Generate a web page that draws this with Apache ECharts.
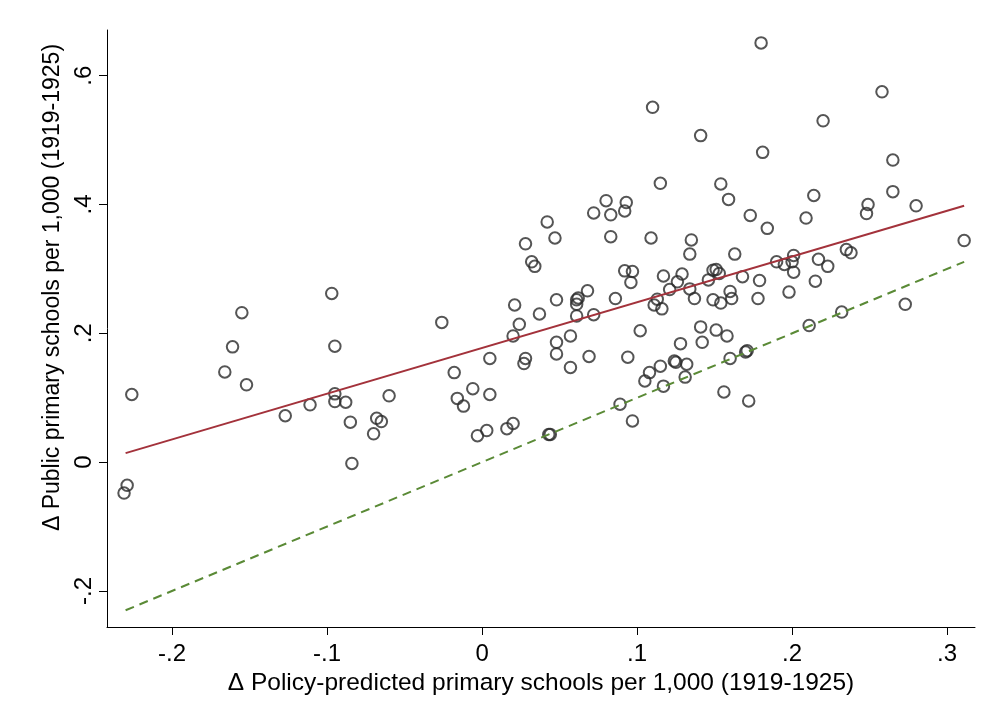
<!DOCTYPE html>
<html>
<head>
<meta charset="utf-8">
<script src="https://cdn.jsdelivr.net/npm/echarts@6/dist/echarts.min.js"></script>
<style>
  html, body { margin: 0; padding: 0; background: #fff; }
  #chart { width: 997px; height: 725px; }
</style>
</head>
<body>
<div id="chart"></div>
<script>
// scatter points: [x, y]
var points = [
  [-0.231, -0.048], [-0.229, -0.036], [-0.226, 0.105], [-0.166, 0.140], [-0.161, 0.179],
  [-0.155, 0.232], [-0.152, 0.120], [-0.127, 0.072], [-0.111, 0.089], [-0.097, 0.262],
  [-0.095, 0.106], [-0.095, 0.094], [-0.095, 0.180], [-0.088, 0.093], [-0.085, 0.062],
  [-0.084, -0.002], [-0.068, 0.068], [-0.065, 0.063], [-0.070, 0.044], [-0.060, 0.103],
  [-0.026, 0.217], [-0.018, 0.139], [-0.016, 0.099], [-0.012, 0.087], [-0.006, 0.114],
  [-0.003, 0.041], [0.003, 0.049], [0.005, 0.161], [0.005, 0.105], [0.016, 0.052],
  [0.020, 0.060], [0.020, 0.196], [0.021, 0.244], [0.024, 0.214], [0.027, 0.153],
  [0.028, 0.161], [0.028, 0.339], [0.032, 0.311], [0.034, 0.304], [0.037, 0.230],
  [0.042, 0.373], [0.043, 0.043], [0.044, 0.043], [0.047, 0.348], [0.048, 0.252],
  [0.048, 0.186], [0.048, 0.168], [0.057, 0.196], [0.057, 0.147], [0.061, 0.252],
  [0.062, 0.255], [0.061, 0.245], [0.068, 0.266], [0.061, 0.227], [0.072, 0.229],
  [0.069, 0.164], [0.072, 0.387], [0.080, 0.406], [0.083, 0.384], [0.092, 0.390],
  [0.093, 0.403], [0.083, 0.350], [0.086, 0.254], [0.092, 0.297], [0.097, 0.296],
  [0.096, 0.279], [0.094, 0.163], [0.089, 0.090], [0.097, 0.064], [0.102, 0.204],
  [0.105, 0.126], [0.108, 0.139], [0.115, 0.149], [0.117, 0.118], [0.109, 0.348],
  [0.110, 0.551], [0.115, 0.433], [0.117, 0.289], [0.121, 0.268], [0.113, 0.253],
  [0.111, 0.244], [0.116, 0.238], [0.124, 0.157], [0.125, 0.155], [0.128, 0.184],
  [0.132, 0.152], [0.131, 0.132], [0.129, 0.292], [0.126, 0.280], [0.134, 0.269],
  [0.137, 0.254], [0.135, 0.345], [0.134, 0.323], [0.141, 0.507], [0.141, 0.210],
  [0.142, 0.186], [0.146, 0.283], [0.149, 0.298], [0.151, 0.299], [0.153, 0.293],
  [0.149, 0.252], [0.154, 0.247], [0.151, 0.205], [0.154, 0.432], [0.159, 0.408],
  [0.158, 0.196], [0.160, 0.265], [0.161, 0.254], [0.160, 0.161], [0.163, 0.323],
  [0.168, 0.288], [0.170, 0.171], [0.171, 0.173], [0.156, 0.109], [0.172, 0.095],
  [0.173, 0.383], [0.179, 0.282], [0.178, 0.254], [0.180, 0.651], [0.181, 0.481],
  [0.184, 0.363], [0.190, 0.311], [0.195, 0.307], [0.201, 0.321], [0.200, 0.311],
  [0.201, 0.295], [0.198, 0.264], [0.209, 0.379], [0.214, 0.414], [0.215, 0.281],
  [0.217, 0.315], [0.220, 0.530], [0.223, 0.304], [0.211, 0.212], [0.232, 0.233],
  [0.235, 0.330], [0.238, 0.325], [0.248, 0.386], [0.249, 0.400], [0.258, 0.575],
  [0.265, 0.469], [0.265, 0.420], [0.273, 0.245], [0.280, 0.398], [0.311, 0.344]
];

// fitted line (solid) and 45-degree line (dashed), end points
var fitX = [-0.23, 0.311];
var fitY = [0.014, 0.398];
var diagX = [-0.23, 0.311];
var diagY = [-0.23, 0.311];

var xTicks = [-0.2, -0.1, 0, 0.1, 0.2, 0.3];
var yTicks = [-0.2, 0, 0.2, 0.4, 0.6];

function stataLabel(v) {
  if (v === 0) return '0';
  return String(v).replace('0.', '.');
}

var font = '"Liberation Sans", Arial, Helvetica, sans-serif';

var myChart = echarts.init(document.getElementById('chart'));
myChart.setOption({
  animation: false,
  backgroundColor: '#fff',
  grid: { left: 107, right: 22, top: 30, bottom: 98 },
  xAxis: {
    type: 'value',
    min: -0.242,
    max: 0.318,
    name: 'Δ Policy-predicted primary schools per 1,000 (1919-1925)',
    nameLocation: 'middle',
    nameGap: 44,
    nameTextStyle: { fontFamily: font, fontSize: 24.5, color: '#000' },
    axisLine: { onZero: false, lineStyle: { color: '#000', width: 1 } },
    axisTick: { show: true, length: 8, customValues: xTicks, lineStyle: { color: '#000' } },
    axisLabel: {
      customValues: xTicks,
      formatter: stataLabel,
      margin: 15,
      fontFamily: font, fontSize: 24, color: '#000'
    },
    splitLine: { show: false }
  },
  yAxis: {
    type: 'value',
    min: -0.256,
    max: 0.671,
    name: 'Δ Public primary schools per 1,000 (1919-1925)',
    nameLocation: 'middle',
    nameGap: 38,
    nameRotate: 90,
    nameTextStyle: { fontFamily: font, fontSize: 23, color: '#000', padding: [0, 0, 0, 82] },
    axisLine: { show: true, onZero: false, lineStyle: { color: '#000', width: 1 } },
    axisTick: { show: true, length: 8, customValues: yTicks, lineStyle: { color: '#000' } },
    axisLabel: {
      customValues: yTicks,
      formatter: stataLabel,
      rotate: 90,
      margin: 11,
      fontFamily: font, fontSize: 24, color: '#000'
    },
    splitLine: { show: false }
  },
  series: [
    {
      type: 'scatter',
      data: points,
      symbol: 'circle',
      symbolSize: 11.5,
      itemStyle: { color: 'rgba(255,255,255,0)', borderColor: '#2a2a2a', borderWidth: 2 },
      z: 2
    },
    {
      type: 'line',
      data: fitX.map(function (x, i) { return [x, fitY[i]]; }),
      showSymbol: false,
      symbol: 'none',
      lineStyle: { color: '#a3323b', width: 2 },
      z: 3
    },
    {
      type: 'line',
      data: diagX.map(function (x, i) { return [x, diagY[i]]; }),
      showSymbol: false,
      symbol: 'none',
      lineStyle: { color: '#5a8a36', width: 2, type: [9, 6] },
      z: 3
    }
  ]
});
</script>
</body>
</html>
